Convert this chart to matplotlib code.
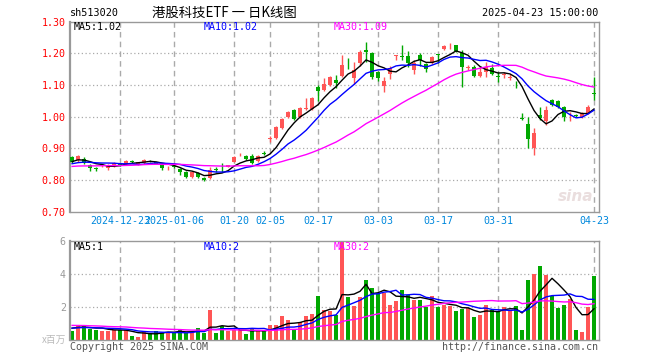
import matplotlib
matplotlib.use('Agg')
import matplotlib.pyplot as plt
import numpy as np
import pandas as pd

# trading days shown (Shanghai calendar, holidays dropped)
HOLIDAYS = ['2025-01-01', '2025-01-28', '2025-01-29', '2025-01-30',
            '2025-01-31', '2025-02-03', '2025-02-04', '2025-04-04']
dates = [d for d in pd.bdate_range('2024-12-11', '2025-04-23')
         if d.strftime('%Y-%m-%d') not in HOLIDAYS]

tick_dates = ['2024-12-23', '2025-01-06', '2025-01-20', '2025-02-05', '2025-02-17',
              '2025-03-03', '2025-03-17', '2025-03-31', '2025-04-23']
tick_labels = ['2024-12-23', '2025-01-06', '01-20', '02-05', '02-17',
               '03-03', '03-17', '03-31', '04-23']

opens = [0.872, 0.862, 0.867, 0.847, 0.836, 0.844, 0.837, 0.843, 0.848, 0.850,
         0.859, 0.851, 0.853, 0.861, 0.856, 0.850, 0.837, 0.844, 0.834, 0.826,
         0.810, 0.822, 0.807, 0.806, 0.833, 0.838, 0.842, 0.858, 0.878, 0.876,
         0.876, 0.861, 0.883, 0.931, 0.932, 0.963, 0.998, 1.021, 0.998, 1.025,
         1.024, 1.095, 1.084, 1.100, 1.116, 1.128, 1.180, 1.121, 1.169, 1.211,
         1.202, 1.142, 1.098, 1.134, 1.191, 1.192, 1.192, 1.147, 1.195, 1.165,
         1.169, 1.196, 1.214, 1.225, 1.226, 1.200, 1.155, 1.156, 1.129, 1.142,
         1.153, 1.127, 1.131, 1.123, 1.103, 0.995, 0.976, 0.900, 1.005, 0.986,
         1.053, 1.051, 1.032, 1.004, 1.003, 1.000, 1.013, 1.075]
highs = [0.877, 0.880, 0.872, 0.850, 0.840, 0.850, 0.850, 0.856, 0.851, 0.862,
         0.862, 0.858, 0.868, 0.864, 0.858, 0.852, 0.844, 0.848, 0.838, 0.830,
         0.827, 0.825, 0.809, 0.842, 0.842, 0.854, 0.849, 0.876, 0.885, 0.878,
         0.881, 0.879, 0.891, 0.940, 0.970, 0.996, 1.019, 1.023, 1.030, 1.060,
         1.062, 1.100, 1.121, 1.127, 1.132, 1.195, 1.185, 1.172, 1.210, 1.237,
         1.205, 1.145, 1.126, 1.160, 1.195, 1.226, 1.207, 1.180, 1.202, 1.170,
         1.192, 1.198, 1.226, 1.234, 1.228, 1.210, 1.164, 1.163, 1.160, 1.172,
         1.165, 1.142, 1.140, 1.136, 1.113, 1.012, 1.000, 0.963, 1.030, 1.035,
         1.056, 1.054, 1.034, 1.014, 1.008, 1.016, 1.037, 1.126]
lows = [0.853, 0.856, 0.850, 0.829, 0.829, 0.840, 0.832, 0.840, 0.843, 0.848,
        0.855, 0.848, 0.850, 0.857, 0.850, 0.832, 0.832, 0.838, 0.816, 0.806,
        0.806, 0.806, 0.796, 0.803, 0.826, 0.826, 0.840, 0.856, 0.875, 0.862,
        0.850, 0.857, 0.879, 0.921, 0.929, 0.962, 0.996, 0.990, 0.996, 1.022,
        1.022, 1.050, 1.080, 1.097, 1.092, 1.125, 1.152, 1.103, 1.160, 1.174,
        1.120, 1.112, 1.079, 1.120, 1.180, 1.178, 1.158, 1.134, 1.160, 1.140,
        1.165, 1.170, 1.212, 1.215, 1.204, 1.095, 1.148, 1.126, 1.126, 1.124,
        1.132, 1.110, 1.122, 1.115, 1.092, 0.990, 0.900, 0.879, 0.990, 0.974,
        1.035, 1.029, 0.986, 0.986, 0.998, 0.997, 1.010, 1.053]
closes = [0.858, 0.876, 0.853, 0.837, 0.834, 0.846, 0.847, 0.853, 0.847, 0.860,
          0.857, 0.856, 0.863, 0.859, 0.852, 0.838, 0.839, 0.842, 0.826, 0.810,
          0.824, 0.810, 0.800, 0.832, 0.832, 0.837, 0.847, 0.872, 0.880, 0.866,
          0.855, 0.876, 0.882, 0.933, 0.967, 0.993, 1.016, 0.993, 1.027, 1.028,
          1.060, 1.081, 1.102, 1.124, 1.107, 1.163, 1.178, 1.147, 1.205, 1.203,
          1.126, 1.123, 1.114, 1.153, 1.192, 1.189, 1.169, 1.171, 1.179, 1.150,
          1.188, 1.195, 1.223, 1.226, 1.207, 1.158, 1.156, 1.129, 1.142, 1.158,
          1.135, 1.126, 1.132, 1.124, 1.102, 0.992, 0.930, 0.950, 0.995, 1.021,
          1.037, 1.032, 1.000, 1.005, 1.002, 1.011, 1.032, 1.072]
volumes = [0.55, 0.91, 0.81, 0.65, 0.61, 0.55, 0.55, 0.61, 0.61, 0.57,
           0.20, 0.14, 0.50, 0.40, 0.55, 0.40, 0.46, 0.46, 0.66, 0.40,
           0.43, 0.71, 0.43, 1.82, 0.43, 0.85, 0.50, 0.57, 0.57, 0.36,
           0.66, 0.57, 0.50, 0.87, 0.91, 1.41, 1.21, 0.61, 1.07, 1.45,
           1.58, 2.67, 1.82, 1.72, 1.52, 5.95, 2.57, 2.06, 2.57, 3.64,
           3.13, 2.83, 2.83, 2.08, 2.32, 3.03, 2.73, 2.38, 2.38, 1.96,
           2.63, 1.96, 2.12, 2.02, 1.72, 1.88, 1.92, 1.35, 1.47, 2.08,
           1.82, 1.76, 1.96, 1.76, 2.02, 0.61, 3.60, 4.00, 4.48, 3.90,
           2.63, 1.92, 2.12, 2.48, 0.61, 0.44, 1.96, 3.88]

# sessions before the window, only needed to seed the moving averages
prior_closes = [0.838, 0.842, 0.835, 0.829, 0.833, 0.840, 0.846, 0.851, 0.844, 0.839,
                0.832, 0.828, 0.836, 0.843, 0.848, 0.841, 0.835, 0.830, 0.838, 0.845,
                0.842, 0.837, 0.843, 0.849, 0.853, 0.848, 0.857, 0.862, 0.866]
prior_volumes = [1.05, 0.92, 1.10, 0.88, 0.97, 1.20, 0.95, 0.83, 0.90, 1.02,
                 0.86, 0.94, 1.08, 0.91, 0.85, 0.99, 0.87, 0.93, 0.96, 0.82,
                 0.70, 0.64, 0.72, 0.68, 0.75, 0.66, 0.71, 0.80, 0.78]

RED = '#ff5555'
GREEN = '#00a800'
MA_COLORS = {5: 'black', 10: '#0000ff', 30: '#ff00ff'}
MONO = 'DejaVu Sans Mono'
CJK = ['Noto Sans CJK SC', 'DejaVu Sans']

n = len(closes)
idx = np.arange(n)
o = np.array(opens); h = np.array(highs); l = np.array(lows); c = np.array(closes)
up = c >= o
colors = np.where(up, RED, GREEN)

all_c = pd.Series(prior_closes + closes)
all_v = pd.Series(prior_volumes + volumes)
k = len(prior_closes)
ma_p = {m: all_c.rolling(m, min_periods=1).mean().values[k:] for m in (5, 10, 30)}
ma_v = {m: all_v.rolling(m, min_periods=1).mean().values[k:] for m in (5, 10, 30)}

date_str = [d.strftime('%Y-%m-%d') for d in dates]
tick_pos = [date_str.index(t) for t in tick_dates]

W, H = 660, 360
fig = plt.figure(figsize=(W / 100, H / 100), dpi=100)


def box(left, top, right, bottom):
    return [left / W, 1 - bottom / H, (right - left) / W, (bottom - top) / H]


ax = fig.add_axes(box(70, 21.7, 599, 211.7))
axv = fig.add_axes(box(70, 240.7, 599, 339.7))
xlim = (-0.35, n - 1 + 0.83)

for a in (ax, axv):
    a.set_xlim(*xlim)
    for s in a.spines.values():
        s.set_color('#999999')
        s.set_linewidth(1.0)
    a.spines['left'].set_linewidth(1.6)
    for p in tick_pos:
        a.axvline(p, color='#aaaaaa', lw=1.0, ls=(0, (4, 3)), zorder=0)
    a.tick_params(length=0, pad=3)

# price panel
ax.set_ylim(0.70, 1.30)
yt = [0.70, 0.80, 0.90, 1.00, 1.10, 1.20, 1.30]
ax.set_yticks(yt)
ax.set_yticklabels([f'{v:.2f}' for v in yt], color='#ff0000', family=MONO, fontsize=7.2)
for v in yt[1:-1]:
    ax.axhline(v, color='#aaaaaa', lw=0.9, ls=(0, (1, 2)), zorder=0)
ax.set_xticks(tick_pos)
ax.set_xticklabels(tick_labels, color='#0088dd', family=MONO, fontsize=7.2)

ax.vlines(idx, l, h, colors=colors, lw=1.0, zorder=2)
body = np.maximum(np.abs(c - o), 0.0025)
ax.bar(idx, body, bottom=np.minimum(o, c), width=0.8, color=colors, zorder=3, linewidth=0)
for m in (5, 10, 30):
    ax.plot(idx, ma_p[m], color=MA_COLORS[m], lw=1.0, zorder=4)

ax.text(0.99, 0.08, 'sina', transform=ax.transAxes, ha='right', va='center',
        fontsize=11, fontweight='bold', style='italic', color='#eadede', zorder=1)

# volume panel
axv.set_ylim(0, 6)
axv.set_yticks([2, 4, 6])
axv.set_yticklabels(['2', '4', '6'], color='#999999', family=MONO, fontsize=7.2)
axv.set_xticks([])
for v in (2, 4):
    axv.axhline(v, color='#aaaaaa', lw=0.9, ls=(0, (1, 2)), zorder=0)
axv.bar(idx, volumes, width=0.8, color=colors, linewidth=0, zorder=2)
for m in (5, 10, 30):
    axv.plot(idx, ma_v[m], color=MA_COLORS[m], lw=1.0, zorder=3)


def ptext(x, y, s, **kw):
    fig.text(x / W, 1 - y / H, s, va='center', **kw)


ptext(70, 12.5, 'sh513020', family=MONO, fontsize=7.3, color='black')
ptext(224, 12.5, '港股科技ETF 一 日K线图', family=CJK, fontsize=9.6, ha='center', color='black')
ptext(598, 12.5, '2025-04-23 15:00:00', family=MONO, fontsize=7.3, ha='right', color='black')

ptext(74, 26.5, f'MA5:{ma_p[5][-1]:.2f}', family=MONO, fontsize=7.2, color=MA_COLORS[5])
ptext(204, 26.5, f'MA10:{ma_p[10][-1]:.2f}', family=MONO, fontsize=7.2, color=MA_COLORS[10])
ptext(334, 26.5, f'MA30:{ma_p[30][-1]:.2f}', family=MONO, fontsize=7.2, color=MA_COLORS[30])

ptext(74, 246.5, 'MA5:1', family=MONO, fontsize=7.2, color=MA_COLORS[5])
ptext(204, 246.5, 'MA10:2', family=MONO, fontsize=7.2, color=MA_COLORS[10])
ptext(334, 246.5, 'MA30:2', family=MONO, fontsize=7.2, color=MA_COLORS[30])

ptext(66, 340, 'x百万', family=CJK, fontsize=7, ha='right', color='#bbbbbb')
ptext(70, 346.5, 'Copyright 2025 SINA.COM', family=MONO, fontsize=7.2, color='#555555')
ptext(598, 346.5, 'http://finance.sina.com.cn', family=MONO, fontsize=7.2, ha='right', color='#555555')

fig.savefig('out.png', dpi=100, facecolor='white')
